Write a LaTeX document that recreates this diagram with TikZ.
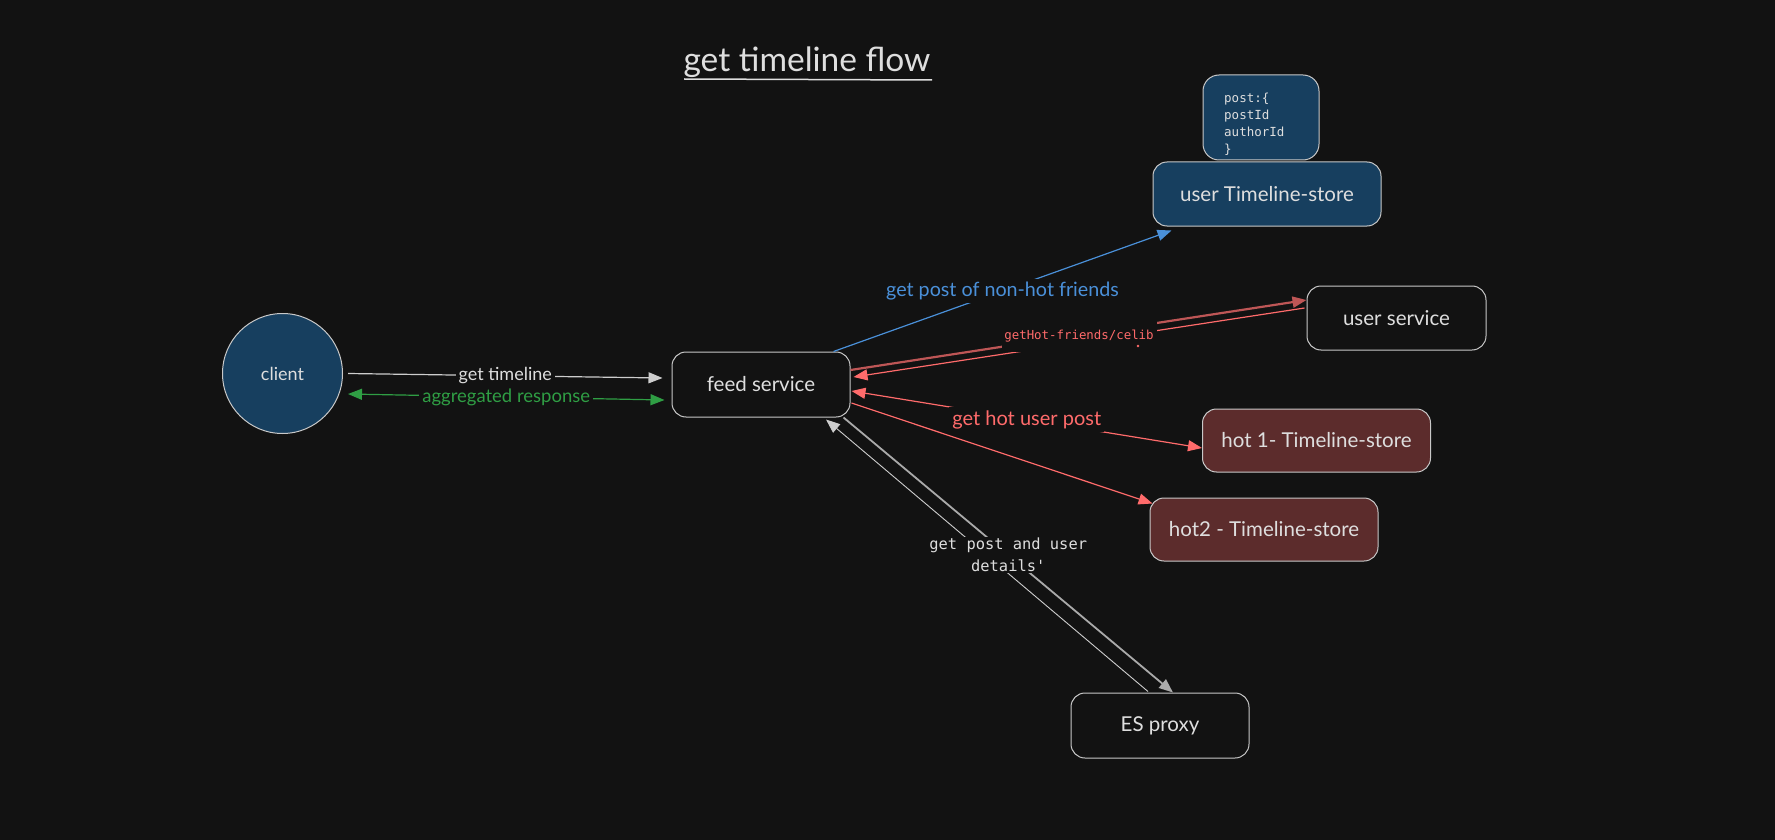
\documentclass[tikz,border=0pt]{standalone}
\usepackage{fontspec}
\setmainfont{Lato}
\setmonofont{DejaVu Sans Mono}
\usetikzlibrary{arrows.meta,calc}
\definecolor{bgc}{RGB}{18,18,18}
\definecolor{bord}{RGB}{200,200,200}
\definecolor{txt}{RGB}{222,222,222}
\definecolor{bluef}{RGB}{23,63,95}
\definecolor{hotf}{RGB}{92,44,44}
\definecolor{redl}{RGB}{255,107,107}
\definecolor{redd}{RGB}{190,86,86}
\definecolor{greenl}{RGB}{47,158,68}
\definecolor{bluel}{RGB}{74,144,217}
\definecolor{grayl}{RGB}{205,205,205}
\definecolor{grayd}{RGB}{170,170,170}
\begin{document}
\begin{tikzpicture}[x=1pt,y=-1pt,
  box/.style={draw=bord, line width=1pt, rounded corners=14pt, text=txt,
    font=\fontsize{20.5}{24}\selectfont, inner sep=0pt},
  lab/.style={fill=bgc, inner sep=3pt, font=\fontsize{18.5}{22}\selectfont},
  tip/.style={-{Triangle[length=14pt,width=11pt]}},
  tips/.style={{Triangle[length=14pt,width=11pt]}-{Triangle[length=14pt,width=11pt]}},
]
\fill[bgc] (0,0) rectangle (1775,840);
\useasboundingbox (0,0) rectangle (1775,840);

% title
\node[text=txt, font=\fontsize{33.5}{40}\selectfont, inner sep=0pt, anchor=base] (title) at (807,72) {get timeline flow};
\draw[txt, line width=1.5pt] (684,79) -- (932,80);

% nodes
\node[box, fill=bluef, minimum width=116pt, minimum height=85pt, rounded corners=16pt] (post) at (1261,117.5) {};
\node[text=txt, font=\ttfamily\fontsize{12.5}{17}\selectfont, align=left, anchor=north west, inner sep=0pt] (posttxt) at (1224,93) {post:\{\\postId\\authorId\\\}};
\node[box, fill=bluef, minimum width=228pt, minimum height=64pt] (utl) at (1267,194) {user Timeline-store};
\node[box, minimum width=179pt, minimum height=64pt] (usvc) at (1396.5,318) {user service};
\node[box, minimum width=178pt, minimum height=65pt] (feed) at (761,384.5) {feed service};
\node[circle, draw=bord, line width=1pt, fill=bluef, minimum size=120pt, inner sep=0pt, text=txt, font=\fontsize{18}{21}\selectfont] (client) at (282.5,373.5) {client};
\node[box, fill=hotf, minimum width=228pt, minimum height=63pt] (hot1) at (1316.5,440.5) {hot 1- Timeline-store};
\node[box, fill=hotf, minimum width=228pt, minimum height=63pt] (hot2) at (1264,529.5) {hot2 - Timeline-store};
\node[box, minimum width=178pt, minimum height=65pt] (es) at (1160,725.5) {ES proxy};

% client <-> feed
\draw[grayl, line width=1.2pt, tip] ($(client.east)+(5,0)$) -- node[lab, text=txt, font=\fontsize{18}{21}\selectfont]{get timeline} ($(feed.west)+(-9,-6.5)$);
\draw[greenl, line width=1.2pt, tips] ($(client.east)+(5,20.5)$) -- node[lab, text=greenl]{aggregated response} ($(feed.west)+(-7,15.5)$);

% feed -> user timeline store
\draw[bluel, line width=1.2pt, tip] ($(feed.north east)+(-17,0)$) -- node[lab, text=bluel, font=\fontsize{19.7}{23}\selectfont]{get post of non-hot friends} ($(utl.south west)+(19,4)$);

% feed <-> user service
\draw[redd, line width=2.2pt, tip] ($(feed.east)+(0,-14.5)$) -- ($(usvc.west)+(0,-18)$);
\draw[redl, line width=1.2pt, tip] ($(usvc.west)+(-2,-10)$) -- ($(feed.east)+(3,-7.5)$);
\node[fill=bgc, inner sep=0pt, minimum width=155pt, minimum height=31pt, text=redl, font=\ttfamily\fontsize{12.4}{15}\selectfont] (celib) at (1079,336) {getHot-friends/celib};
\fill[redl] (1138,346) circle (1.3pt);

% feed <-> hot stores
\draw[redl, line width=1.2pt, tips] ($(feed.east)+(1,6.5)$) -- node[lab, text=redl, font=\fontsize{20}{23}\selectfont]{get hot user post} ($(hot1.west)+(0,7.5)$);
\draw[redl, line width=1.2pt, tip] ($(feed.east)+(1,18.5)$) -- ($(hot2.north west)+(3,6)$);

% feed <-> ES proxy
\draw[grayl, line width=0.9pt, tip] ($(es.north)+(-12,-1)$) -- ($(feed.south)+(65,2)$);
\draw[grayd, line width=1.8pt, tip] ($(feed.south east)+(-7,0)$) -- node[fill=bgc, inner sep=1pt, align=center, text=txt, font=\ttfamily\fontsize{15.4}{22}\selectfont]{get post and user\\details'} ($(es.north)+(13,0)$);
\end{tikzpicture}
\end{document}
